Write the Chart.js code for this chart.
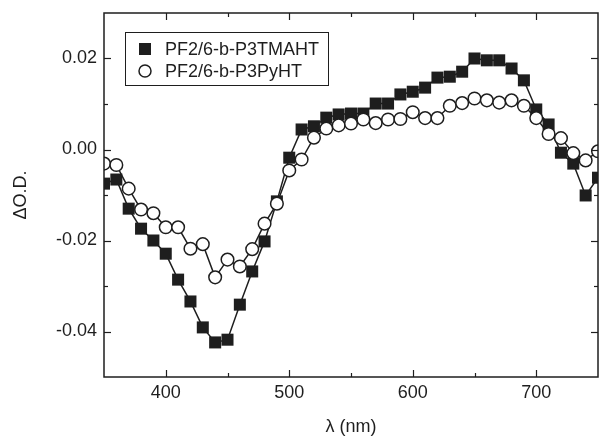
<!DOCTYPE html>
<html>
<head>
<meta charset="utf-8">
<script src="https://cdn.jsdelivr.net/npm/chart.js@4.4.1/dist/chart.umd.min.js"></script>
<style>
    html, body { margin: 0; padding: 0; background: #fff; }
    #wrap { width: 599px; height: 442px; position: relative; }
</style>
</head>
<body>
<div id="wrap"><canvas id="spectrumChart"></canvas></div>
<script>
// wavelength (nm)
const wavelengths = [350, 360, 370, 380, 390, 400, 410, 420, 430, 440, 450, 460, 470, 480, 490,
    500, 510, 520, 530, 540, 550, 560, 570, 580, 590, 600, 610, 620, 630, 640, 650,
    660, 670, 680, 690, 700, 710, 720, 730, 740, 750];

// PF2/6-b-P3TMAHT (filled squares)
const tmahtValues = [-0.0075, -0.0066, -0.0130, -0.0174, -0.0200, -0.0229, -0.0286, -0.0334, -0.0391, -0.0424, -0.0418,
    -0.0341, -0.0268, -0.0202, -0.0114, -0.0018, 0.0044, 0.0051, 0.0070, 0.0077, 0.0079,
    0.0079, 0.0101, 0.0101, 0.0121, 0.0127, 0.0136, 0.0158, 0.0160, 0.0171, 0.0200,
    0.0196, 0.0196, 0.0178, 0.0152, 0.0088, 0.0055, -0.0007, -0.0031, -0.0101, -0.0062];

// PF2/6-b-P3PyHT (open circles)
const pyhtValues = [-0.0031, -0.0034, -0.0086, -0.0132, -0.0140, -0.0171, -0.0171, -0.0218, -0.0208, -0.0281, -0.0242,
    -0.0257, -0.0219, -0.0163, -0.0119, -0.0046, -0.0022, 0.0026, 0.0046, 0.0053, 0.0057,
    0.0066, 0.0058, 0.0066, 0.0067, 0.0082, 0.0069, 0.0069, 0.0096, 0.0102, 0.0112,
    0.0108, 0.0103, 0.0108, 0.0096, 0.0069, 0.0034, 0.0025, -0.0008, -0.0024, -0.0004];

const seriesLabels = ['PF2/6-b-P3TMAHT', 'PF2/6-b-P3PyHT'];

const xTicks = [400, 450, 500, 550, 600, 650, 700];
const xLabeled = [400, 500, 600, 700];
const yTicks = [-0.04, -0.03, -0.02, -0.01, 0.00, 0.01, 0.02];
const yLabeled = [-0.04, -0.02, 0.00, 0.02];

const INK = '#1e1e1e';
const FONT = "'Liberation Sans', Arial, sans-serif";

const toPoints = (vals) => wavelengths.map((w, i) => ({ x: w, y: vals[i] }));

// no extra label padding, the plot box is placed by hand
const noPad = (scale) => {
    scale.paddingTop = 0; scale.paddingBottom = 0;
    scale.paddingLeft = 0; scale.paddingRight = 0;
};

// frame + inward ticks on all four sides
const frameTicks = {
    id: 'frameTicks',
    afterDatasetsDraw(chart) {
        const { ctx, chartArea: a, scales } = chart;
        const line = (x1, y1, x2, y2) => {
            ctx.beginPath(); ctx.moveTo(x1, y1); ctx.lineTo(x2, y2); ctx.stroke();
        };
        ctx.save();
        ctx.strokeStyle = INK;
        ctx.lineWidth = 1.5;
        ctx.strokeRect(a.left, a.top, a.right - a.left, a.bottom - a.top);
        ctx.lineWidth = 1.2;
        xTicks.forEach(v => {
            const px = Math.round(scales.x.getPixelForValue(v)) + 0.5;
            const len = xLabeled.includes(v) ? 7 : 4;
            line(px, a.bottom, px, a.bottom - len);
            line(px, a.top, px, a.top + len);
        });
        yTicks.forEach(v => {
            const py = Math.round(scales.y.getPixelForValue(v)) + 0.5;
            const len = yLabeled.some(l => Math.abs(l - v) < 1e-9) ? 7 : 4;
            line(a.left, py, a.left + len, py);
            line(a.right, py, a.right - len, py);
        });
        ctx.restore();
    },
    afterDraw(chart) {
        // legend box in the upper left of the plot
        const { ctx } = chart;
        ctx.save();
        ctx.strokeStyle = INK;
        ctx.lineWidth = 1;
        ctx.strokeRect(125.5, 32.5, 203, 53);
        ctx.font = '18px ' + FONT;
        ctx.fillStyle = INK;
        ctx.textBaseline = 'middle';
        ctx.textAlign = 'left';
        // square
        ctx.fillRect(139, 43, 12, 12);
        ctx.fillText(seriesLabels[0], 165, 50);
        // circle
        ctx.beginPath();
        ctx.arc(145, 71, 6, 0, Math.PI * 2);
        ctx.fillStyle = '#fff';
        ctx.fill();
        ctx.lineWidth = 1.5;
        ctx.stroke();
        ctx.fillStyle = INK;
        ctx.fillText(seriesLabels[1], 165, 72);
        ctx.restore();
    }
};

const chart = new Chart(document.getElementById('spectrumChart'), {
    type: 'line',
    data: {
        datasets: [
            {
                label: seriesLabels[1],
                data: toPoints(pyhtValues),
                borderColor: INK,
                borderWidth: 1.5,
                pointStyle: 'circle',
                pointRadius: 6.3,
                pointBorderWidth: 1.5,
                pointBackgroundColor: '#fff',
                pointBorderColor: INK,
                tension: 0,
                clip: 0
            },
            {
                label: seriesLabels[0],
                data: toPoints(tmahtValues),
                borderColor: INK,
                borderWidth: 1.5,
                pointStyle: 'rect',
                pointRadius: 8.5,
                pointBorderWidth: 0,
                pointBackgroundColor: INK,
                pointBorderColor: INK,
                tension: 0,
                clip: 0
            }
        ]
    },
    options: {
        responsive: true,
        maintainAspectRatio: false,
        animation: false,
        layout: { autoPadding: false, padding: { top: 13, right: 1, bottom: 0, left: 0 } },
        plugins: {
            legend: { display: false },
            tooltip: { enabled: false }
        },
        scales: {
            x: {
                type: 'linear',
                min: 350,
                max: 750,
                grid: { display: false, drawTicks: false },
                border: { display: false },
                afterBuildTicks: (scale) => { scale.ticks = xTicks.map(v => ({ value: v })); },
                afterFit: (scale) => { scale.height = 65; noPad(scale); },
                ticks: {
                    autoSkip: false,
                    maxRotation: 0,
                    padding: 5,
                    color: INK,
                    font: { family: FONT, size: 18 },
                    callback: (v) => xLabeled.includes(v) ? String(v) : ''
                },
                title: {
                    display: true,
                    text: 'λ (nm)',
                    color: INK,
                    font: { family: FONT, size: 18 },
                    padding: { top: 0, bottom: 4 }
                }
            },
            y: {
                type: 'linear',
                min: -0.05,
                max: 0.03,
                grid: { display: false, drawTicks: false },
                border: { display: false },
                afterBuildTicks: (scale) => { scale.ticks = yTicks.map(v => ({ value: v })); },
                afterFit: (scale) => { scale.width = 104; noPad(scale); },
                ticks: {
                    autoSkip: false,
                    padding: 7,
                    color: INK,
                    font: { family: FONT, size: 18 },
                    callback: (v) => yLabeled.some(l => Math.abs(l - v) < 1e-9) ? v.toFixed(2) : ''
                },
                title: {
                    display: true,
                    text: 'ΔO.D.',
                    color: INK,
                    font: { family: FONT, size: 18 },
                    padding: { top: 10, bottom: 0 }
                }
            }
        }
    },
    plugins: [frameTicks]
});
</script>
</body>
</html>
